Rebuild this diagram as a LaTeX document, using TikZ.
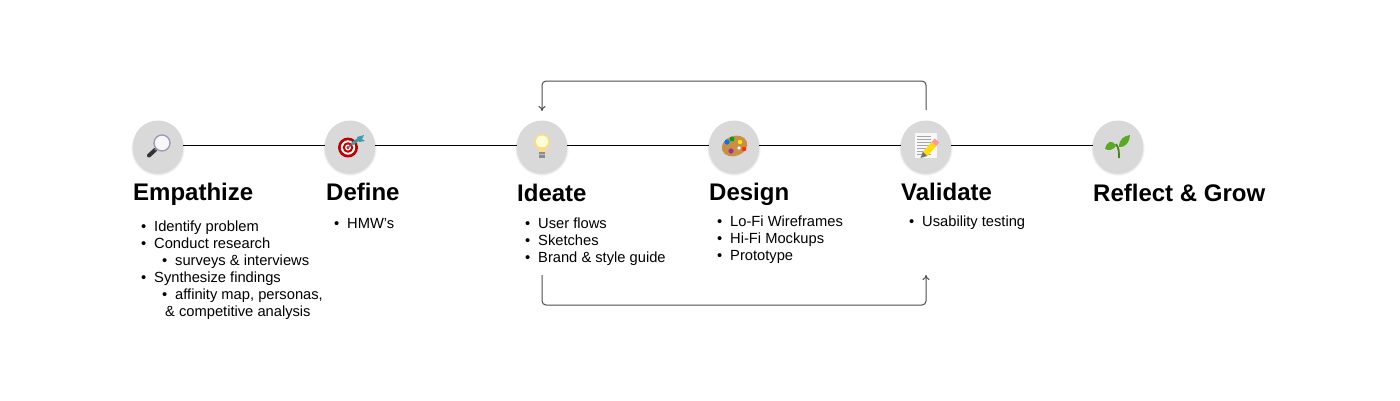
\documentclass[tikz,border=0pt]{standalone}
\usepackage{fontspec}
\setmainfont{Liberation Sans}
\usetikzlibrary{arrows.meta, calc, positioning}

\definecolor{leaf}{HTML}{5AA823}
\definecolor{wood}{HTML}{C98F45}
\definecolor{dartblue}{HTML}{3E9DA8}

\newcommand{\lone}{\makebox[13pt][l]{\textbullet}}
\newcommand{\ltwo}{\hspace*{21pt}\makebox[13pt][l]{\textbullet}}

\begin{document}
\begin{tikzpicture}[
  x=1pt, y=-1pt,
  stepdot/.style={circle, fill=black!15, minimum size=50pt, inner sep=0pt},
  halo/.style={circle, fill=black, minimum size=#1, inner sep=0pt, opacity=0.04},
  title/.style={font=\fontsize{24}{28}\selectfont\bfseries, anchor=base west, inner sep=0pt},
  items/.style={font=\fontsize{14.7}{17}\selectfont, anchor=north west, align=left, inner sep=0pt},
  link/.style={line width=1pt, black},
  loopback/.style={line width=1pt, black!70, rounded corners=4pt, -{To[length=5pt,width=7pt]}},
]
\useasboundingbox (0,0) rectangle (1400,400);
\fill[white] (0,0) rectangle (1400,400);

% ---------------------------------------------------------------
% soft shadows under the circles
% ---------------------------------------------------------------
\foreach \cx in {158,350,542,734,926,1118} {
  \foreach \sz in {49pt,50.5pt,52pt,53.5pt} {
    \node[halo=\sz] at (\cx,149) {};
  }
}

% ---------------------------------------------------------------
% steps
% ---------------------------------------------------------------
\node[stepdot] (empathize) at (158,145.5) {};
\node[stepdot] (define)    at (350,145.5) {};
\node[stepdot] (ideate)    at (542,145.5) {};
\node[stepdot] (design)    at (734,145.5) {};
\node[stepdot] (validate)  at (926,145.5) {};
\node[stepdot] (reflect)   at (1118,145.5) {};

\draw[link] (empathize) -- (define);
\draw[link] (define) -- (ideate);
\draw[link] (ideate) -- (design);
\draw[link] (design) -- (validate);
\draw[link] (validate) -- (reflect);

\node[title] (tempathize) at (133,200) {Empathize};
\node[title] (tdefine)    at (326,200) {Define};
\node[title] (tideate)    at (517,201) {Ideate};
\node[title] (tdesign)    at (709,200) {Design};
\node[title] (tvalidate)  at (901,200) {Validate};
\node[title] (treflect)   at (1093,201) {Reflect \& Grow};

\node[items] (lempathize) at (141,221) {\lone Identify problem\\\lone Conduct research\\\ltwo surveys \& interviews\\\lone Synthesize findings\\\ltwo affinity map, personas,\\\hspace*{24pt}\& competitive analysis};
\node[items] (ldefine)   at (334,218) {\lone HMW’s};
\node[items] (lideate)   at (525,218) {\lone User flows\\\lone Sketches\\\lone Brand \& style guide};
\node[items] (ldesign)   at (717,216) {\lone Lo-Fi Wireframes\\\lone Hi-Fi Mockups\\\lone Prototype};
\node[items] (lvalidate) at (909,216) {\lone Usability testing};

% ---------------------------------------------------------------
% feedback loops
% ---------------------------------------------------------------
\coordinate (backstart) at (926,110);
\coordinate (backend)   at (542,111);
\coordinate (fwdstart)  at (542,275);
\coordinate (fwdend)    at (926,275);
\draw[loopback] (backstart) -- (926,81) -- (542,81) -- (backend);
\draw[loopback] (fwdstart) -- (542,305) -- (926,305) -- (fwdend);

% ---------------------------------------------------------------
% icons
% ---------------------------------------------------------------
% magnifier
\draw[line width=4pt, black!80, line cap=round] (155,150) -- (149,155.5);
\draw[line width=1.5pt, black!50] (157,148) -- (155,150);
\fill[black!3] (162,143) circle (8pt);
\draw[line width=1.3pt, blue!25!black!40] (162,143) circle (8pt);

% target with dart
\fill[red!75!black] (348,147.5) circle (10pt);
\fill[white] (348,147.5) circle (7.2pt);
\fill[red!80!black] (348,147.5) circle (5.3pt);
\fill[white] (348,147.5) circle (3pt);
\fill[red!80!black] (348,147.5) circle (1.5pt);
\draw[line width=1.2pt, black!60] (348,147.5) -- (353,143);
\draw[line width=3pt, dartblue] (352,144) -- (359,139);
\fill[dartblue] (357,137) -- (364,135) -- (362,139) -- (365,141) -- (359,142) -- cycle;

% bulb
\fill[yellow!45!orange!45!white] (542,142) circle (8pt);
\fill[yellow!15] (542,141.5) circle (6pt);
\fill[yellow!45!orange!45!white] (538.5,147) rectangle (545.5,152);
\fill[black!45] (539,152) rectangle (545,157.5);
\draw[black!25, line width=0.6pt] (539,154.5) -- (545,154.5);

% palette
\fill[wood, rotate around={20:(734.5,146)}] (734.5,146) ellipse (13pt and 10pt);
\fill[blue!55!cyan] (727,142) circle (2.6pt);
\fill[green!65!black] (732,139) circle (2.4pt);
\fill[yellow!85!orange] (740,142) circle (2.2pt);
\fill[red!60!orange] (744,149) circle (2.3pt);
\fill[violet!80] (731,151) circle (2.6pt);
\fill[white] (739,148) circle (1.8pt);

% memo with pencil
\fill[black!3] (915,133) rectangle (937,158);
\foreach \ly in {136,139,142,145,148,151,154} {
  \draw[black!35, line width=0.5pt] (917,\ly) -- (931,\ly);
}
\draw[line width=6pt, yellow!80!orange] (925,154) -- (934,144);
\draw[line width=6pt, red!40!white] (934,144) -- (937,140.5);
\fill[black!55] (920.5,158) -- (922.8,151.8) -- (927.2,156) -- cycle;

% sprout
\draw[line width=1.8pt, leaf!80!black] (1119,158) .. controls (1119,152) and (1119,148) .. (1116,144);
\fill[leaf] (1116,146) .. controls (1112,139) and (1107,141) .. (1105,149) .. controls (1109,151) and (1113,150) .. (1116,146) -- cycle;
\fill[leaf] (1119,147) .. controls (1119,139) and (1124,136) .. (1130,135) .. controls (1130,142) and (1125,148) .. (1119,147) -- cycle;

\end{tikzpicture}
\end{document}
